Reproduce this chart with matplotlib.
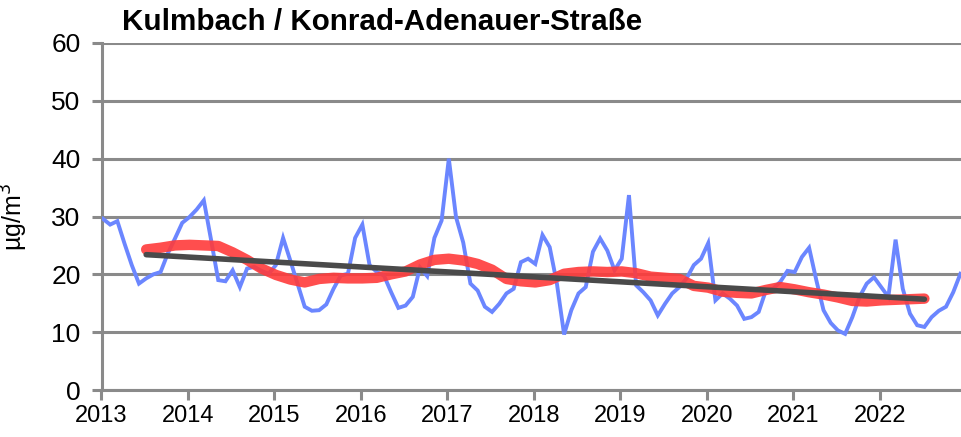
import numpy as np
import matplotlib
matplotlib.use("Agg")
import matplotlib.pyplot as plt

plt.rcParams['font.family'] = ['Liberation Sans', 'DejaVu Sans']

# Monthly NO2 values Jan 2013 .. Dec 2022 (µg/m³)
monthly = [
    29.6, 28.6, 29.2, 25.3, 21.6, 18.4, 19.3, 20.0, 20.4, 23.6, 26.2, 28.9,  # 2013
    29.9, 31.2, 32.8, 26.0, 19.0, 18.8, 20.7, 17.8, 21.0, 21.3, 20.6, 20.1,  # 2014
    21.6, 26.3, 22.4, 18.4, 14.4, 13.7, 13.8, 14.8, 17.5, 19.8, 20.1, 26.3,  # 2015
    28.6, 21.6, 20.4, 19.8, 16.9, 14.2, 14.6, 16.1, 21.2, 19.7, 26.3, 29.3,  # 2016
    40.0, 29.9, 25.5, 18.4, 17.2, 14.4, 13.5, 14.9, 16.7, 17.5, 22.1, 22.7,  # 2017
    21.8, 26.8, 24.7, 18.4, 9.6, 13.8, 16.7, 17.8, 23.9, 26.2, 24.1, 20.7,  # 2018
    22.7, 33.7, 18.1, 16.9, 15.5, 12.9, 14.9, 16.7, 17.8, 19.3, 21.6, 22.7,  # 2019
    25.4, 15.5, 16.7, 15.8, 14.6, 12.3, 12.6, 13.5, 17.2, 17.5, 18.7, 20.6,  # 2020
    20.4, 23.0, 24.6, 19.0, 13.8, 11.6, 10.3, 9.7, 12.6, 16.1, 18.4, 19.5,  # 2021
    17.8, 16.1, 26.0, 17.5, 13.2, 11.2, 10.9, 12.6, 13.7, 14.4, 16.9, 20.1,  # 2022
]

# Running annual mean, read every second month starting July 2013 (month index 6)
running_start = 6
running_mean = [
    24.3, 24.6, 25.0, 25.1, 25.0, 24.9, 23.8, 22.5, 21.0, 19.9, 19.1, 18.6,
    19.2, 19.4, 19.3, 19.3, 19.4, 20.0, 20.5, 21.7, 22.5, 22.7, 22.4, 21.8,
    20.8, 19.2, 18.8, 18.6, 19.0, 20.1, 20.4, 20.5, 20.4, 20.5, 20.2, 19.6,
    19.4, 19.2, 18.0, 17.7, 17.0, 16.8, 16.7, 17.3, 17.8, 17.4, 16.9, 16.5,
    16.0, 15.4, 15.3, 15.5, 15.6, 15.7, 15.8,
]

# Linear trend end points (month index, value)
trend_months = [6, 114]
trend_values = [23.4, 15.7]

year_ticks = list(range(2013, 2023))
year_labels = [str(y) for y in year_ticks]
y_ticks = [0, 10, 20, 30, 40, 50, 60]

title = "Kulmbach / Konrad-Adenauer-Straße"

X_END = 2022.94


def month_to_x(m):
    return 2013 + (np.asarray(m, dtype=float) + 0.2) / 12.0


fig = plt.figure(figsize=(9.61, 4.37), dpi=100)
ax = fig.add_axes([101.5 / 961, 1 - 390 / 437, 859.5 / 961, (390 - 43) / 437])

grid_c = '#8a8a8a'
ax.set_xlim(2013, X_END)
ax.set_ylim(0, 60)
ax.set_yticks(y_ticks)
ax.set_xticks(year_ticks)
ax.set_xticklabels(year_labels)
ax.yaxis.grid(True, color=grid_c, linewidth=2.2)
ax.set_axisbelow(True)
for s in ['top', 'right']:
    ax.spines[s].set_visible(False)
for s in ['left', 'bottom']:
    ax.spines[s].set_color(grid_c)
    ax.spines[s].set_linewidth(2.2)
ax.tick_params(axis='both', color=grid_c, width=2.2, length=7)
ax.tick_params(axis='x', labelsize=17, pad=4)
ax.tick_params(axis='y', labelsize=19, pad=8)

xm = month_to_x(np.arange(len(monthly)))
ax.plot(xm, monthly, color='#6b86ff', linewidth=2.8, solid_joinstyle='miter', zorder=3)

rx = month_to_x(running_start + 2 * np.arange(len(running_mean)))
ax.plot(rx, running_mean, color='#ff3b3b', linewidth=7.5, alpha=0.9,
        solid_capstyle='round', zorder=4)

ax.plot(month_to_x(trend_months), trend_values, color='#4a4a4a', linewidth=4,
        solid_capstyle='round', zorder=5)

ax.set_ylabel('µg/m$^3$', fontsize=18)
ax.yaxis.set_label_coords(-71 / 859.5, 0.5)
fig.text(122 / 961, 1 - 22 / 437, title, fontsize=21.3, fontweight='bold',
         ha='left', va='center')

fig.savefig('out.png', dpi=100)
